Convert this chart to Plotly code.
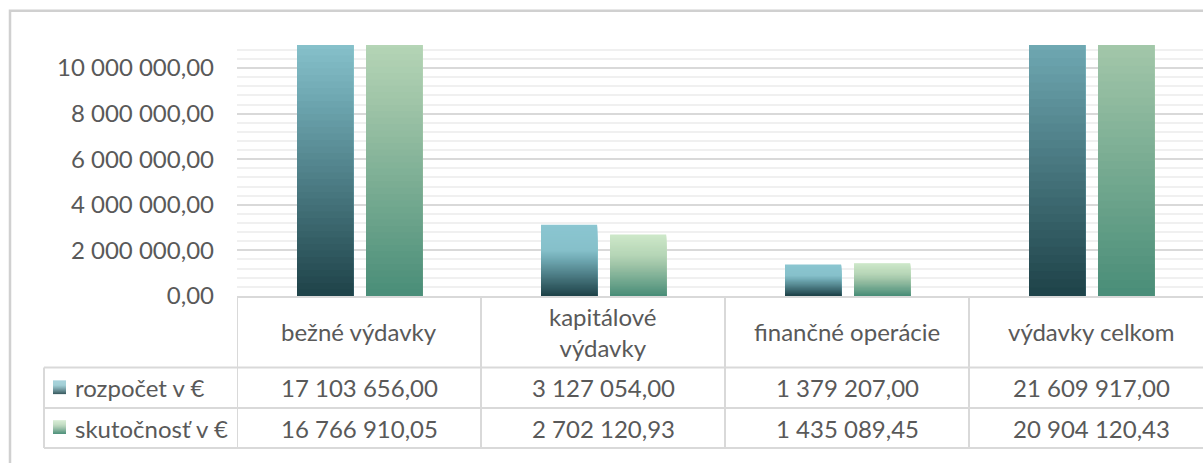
import plotly.graph_objects as go

# ---------------- data ----------------
categories = ["bežné výdavky", "kapitálové výdavky", "finančné operácie", "výdavky celkom"]
category_labels = ["bežné výdavky", "kapitálové<br>výdavky", "finančné operácie", "výdavky celkom"]
series_names = ["rozpočet v €", "skutočnosť v €"]
rozpocet = [17103656.00, 3127054.00, 1379207.00, 21609917.00]
skutocnost = [16766910.05, 2702120.93, 1435089.45, 20904120.43]
y_ticks = [0, 2000000, 4000000, 6000000, 8000000, 10000000]

# ---------------- layout constants (pixels) ----------------
W, H = 1203, 463
FONT = "Lato"
FS = 24
TXT = "#595959"
GRID = "#d9d9d9"
MINOR = "#f0f0f0"

def px(x):
    return x / W

def py(y):
    return 1 - y / H

# gradient stops (fraction of bar height -> colour), dark at the bottom
grad_stops = [
    [(0.0, (30, 66, 72)), (0.51, (111, 168, 178)), (0.64, (134, 192, 202)), (1.0, (139, 198, 209))],
    [(0.0, (73, 141, 120)), (0.51, (160, 197, 168)), (0.66, (181, 213, 182)), (1.0, (206, 232, 201))],
]

def grad_color(stops, t):
    t = max(0.0, min(1.0, t))
    for (t0, c0), (t1, c1) in zip(stops[:-1], stops[1:]):
        if t <= t1:
            f = (t - t0) / (t1 - t0)
            return "rgb(%d,%d,%d)" % tuple(round(a + (b - a) * f) for a, b in zip(c0, c1))
    return "rgb(%d,%d,%d)" % stops[-1][1]

N = 60
offsets = [-0.254, 0.029]
BW = 0.23

def fmt(v):
    return f"{v:,.2f}".replace(",", " ").replace(".", ",")

fig = go.Figure()
for s, vals in enumerate([rozpocet, skutocnost]):
    for k in range(N, 0, -1):
        frac = k / N
        col = grad_color(grad_stops[s], frac - 0.5 / N)
        fig.add_trace(go.Bar(
            x=categories,
            y=[v * frac for v in vals],
            offset=offsets[s],
            width=BW,
            marker=dict(color=col, line=dict(width=0)),
            showlegend=False,
            hoverinfo="skip",
        ))

x_left, x_right = 237, 1203
colw = 244
y_top, y_bot = 46.6, 304.5

fig.update_layout(
    width=W, height=H,
    margin=dict(l=0, r=0, t=0, b=0),
    paper_bgcolor="white", plot_bgcolor="white",
    barmode="overlay",
    separators=", ",
    font=dict(family=FONT, size=FS, color=TXT),
    xaxis=dict(
        domain=[px(x_left), px(x_right)],
        range=[-0.5, -0.5 + (x_right - x_left) / colw],
        showticklabels=False, ticks="",
        showgrid=False, zeroline=False,
        showline=True, linecolor=GRID, linewidth=2,
        fixedrange=True,
    ),
    yaxis=dict(
        domain=[py(y_bot), py(y_top)],
        range=[0, 11000000],
        tickvals=y_ticks,
        tickformat=",.2f",
        ticks="",
        ticklabelstandoff=22,
        tickfont=dict(family=FONT, size=FS, color=TXT),
        showgrid=True, gridcolor=GRID, gridwidth=1.5,
        zeroline=False, showline=False,
        minor=dict(dtick=400000, tick0=0, showgrid=True, gridcolor=MINOR, gridwidth=2),
        fixedrange=True,
    ),
)

shapes = []
LINE = dict(color=GRID, width=2)
# outer chart border (right and bottom edges lie outside the picture)
shapes.append(dict(type="rect", xref="paper", yref="paper",
                   x0=px(10), x1=1.1, y0=py(11), y1=-0.1,
                   line=dict(color="#d0d0d0", width=2.5), fillcolor="rgba(0,0,0,0)", layer="below"))
# data table grid
row_lines = [378, 419.7, 461]
for yl in row_lines:
    shapes.append(dict(type="line", xref="paper", yref="paper",
                       x0=px(44), x1=1.0, y0=py(yl), y1=py(yl), line=LINE))
shapes.append(dict(type="line", xref="paper", yref="paper",
                   x0=px(44), x1=px(44), y0=py(378), y1=py(461), line=LINE))
for i in range(len(categories)):
    shapes.append(dict(type="line", xref="x", yref="paper",
                       x0=i - 0.5, x1=i - 0.5, y0=py(y_bot), y1=py(461), line=LINE))

# legend keys (gradient squares)
key_rows = [(391.5, 405.5), (432.5, 446.5)]
K = 14
for s, (ka, kb) in enumerate(key_rows):
    for j in range(K):
        t0 = ka + (kb - ka) * j / K
        t1 = ka + (kb - ka) * (j + 1) / K
        col = grad_color(grad_stops[s], 1 - (j + 0.5) / K)
        shapes.append(dict(type="rect", xref="paper", yref="paper",
                           x0=px(53), x1=px(66), y0=py(t0), y1=py(t1),
                           line=dict(width=0), fillcolor=col))
fig.update_layout(shapes=shapes)

ann = []
for i, lab in enumerate(category_labels):
    ann.append(dict(x=i, xref="x", y=py(341.5), yref="paper", text=lab,
                    showarrow=False, xanchor="center", yanchor="middle",
                    font=dict(family=FONT, size=FS, color=TXT)))
row_centers = [399, 440.5]
for s, vals in enumerate([rozpocet, skutocnost]):
    ann.append(dict(x=px(73), xref="paper", y=py(row_centers[s]), yref="paper",
                    text=series_names[s], showarrow=False, xanchor="left", yanchor="middle",
                    font=dict(family=FONT, size=FS, color=TXT)))
    for i, v in enumerate(vals):
        ann.append(dict(x=i, xref="x", y=py(row_centers[s]), yref="paper", text=fmt(v),
                        showarrow=False, xanchor="center", yanchor="middle",
                        font=dict(family=FONT, size=FS, color=TXT)))
fig.update_layout(annotations=ann)

fig.write_html(
    "out.html",
    config={"displayModeBar": False},
    post_script="document.body.style.margin='0';document.body.style.overflow='hidden';",
)
